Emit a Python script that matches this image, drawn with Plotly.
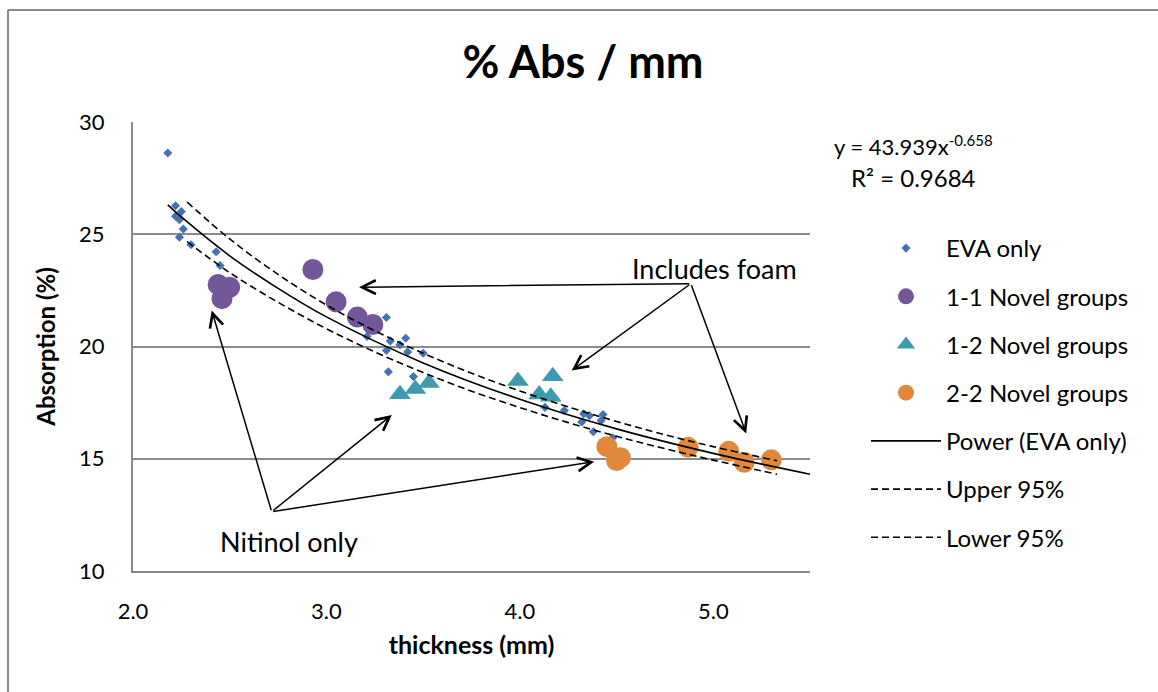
import plotly.graph_objects as go

FONT = "Lato"

# ---------------- data ----------------
eva_x = [2.18, 2.22, 2.25, 2.22, 2.24, 2.26, 2.24, 2.30, 2.43, 2.45,
         3.31, 3.21, 3.33, 3.41, 3.38, 3.31, 3.42, 3.50, 3.32, 3.45,
         4.13, 4.23, 4.33, 4.36, 4.32, 4.43, 4.42, 4.38, 4.48]
eva_y = [28.62, 26.27, 26.01, 25.80, 25.65, 25.23, 24.87, 24.53, 24.22, 23.61,
         21.29, 20.45, 20.24, 20.37, 20.08, 19.82, 19.76, 19.70, 18.87, 18.66,
         17.29, 17.15, 17.00, 16.92, 16.64, 16.97, 16.70, 16.20, 15.93]

g11_x = [2.44, 2.50, 2.46, 2.93, 3.05, 3.16, 3.24]
g11_y = [22.76, 22.64, 22.13, 23.43, 21.99, 21.31, 20.98]

g12_x = [3.38, 3.46, 3.53, 3.99, 4.17, 4.10, 4.16]
g12_y = [17.87, 18.11, 18.37, 18.46, 18.67, 17.86, 17.76]

g22_x = [4.45, 4.50, 4.52, 4.87, 5.08, 5.16, 5.30]
g22_y = [15.54, 14.92, 15.05, 15.51, 15.33, 14.84, 14.95]

# Power trendline (EVA only): y = 43.939x^-0.658
fit_x = [2.18, 2.25, 2.5, 2.75, 3.0, 3.5, 4.0, 4.5, 5.0, 5.5]
fit_y = [26.31, 25.77, 24.04, 22.59, 21.32, 19.27, 17.65, 16.33, 15.24, 14.31]

band_x = [2.28, 2.5, 2.75, 3.0, 3.25, 3.5, 3.75, 4.0, 4.25, 4.5, 4.75, 5.0, 5.33]
upper_y = [26.43, 24.79, 23.21, 21.85, 20.70, 19.70, 18.81, 18.02, 17.31, 16.66, 16.07, 15.54, 14.91]
lower_y = [24.67, 23.29, 21.97, 20.79, 19.76, 18.84, 18.01, 17.28, 16.61, 16.00, 15.45, 14.94, 14.31]

x_ticks = [2.0, 3.0, 4.0, 5.0]
y_ticks = [10, 15, 20, 25, 30]

# annotation anchor points (data coordinates)
foam_tail = (4.884, 22.80)
foam_heads = [(3.169, 22.64), (4.268, 18.93), (5.170, 16.13)]
nit_tail = (2.717, 12.64)
nit_heads = [(2.407, 21.60), (3.338, 16.95), (4.384, 14.87)]

# ---------------- styles ----------------
EVA_C = "#4472B4"
P_C = "#745799"
T_C = "#3E9AB0"
O_C = "#E0883C"
GRID = "#8a8a8a"

fig = go.Figure()
fig.add_trace(go.Scatter(x=eva_x, y=eva_y, mode="markers", name="EVA only",
                         legendgroup="a",
                         marker=dict(symbol="diamond", size=7, color=EVA_C, line=dict(width=0))))
fig.add_trace(go.Scatter(x=g11_x, y=g11_y, mode="markers", name="1-1 Novel groups",
                         legendgroup="b",
                         marker=dict(symbol="circle", size=21, color=P_C, line=dict(width=0))))
fig.add_trace(go.Scatter(x=g12_x, y=g12_y, mode="markers", name="1-2 Novel groups",
                         legendgroup="c",
                         marker=dict(symbol="triangle-up", size=19, color=T_C, line=dict(width=0))))
fig.add_trace(go.Scatter(x=g22_x, y=g22_y, mode="markers", name="2-2 Novel groups",
                         legendgroup="d",
                         marker=dict(symbol="circle", size=21, color=O_C, line=dict(width=0))))
fig.add_trace(go.Scatter(x=fit_x, y=fit_y, mode="lines", name="Power (EVA only)",
                         legendgroup="e", line=dict(color="black", width=1.6, shape="spline")))
fig.add_trace(go.Scatter(x=band_x, y=upper_y, mode="lines", name="Upper 95%",
                         legendgroup="f", line=dict(color="black", width=1.6, dash="7px,4px", shape="spline")))
fig.add_trace(go.Scatter(x=band_x, y=lower_y, mode="lines", name="Lower 95%",
                         legendgroup="g", line=dict(color="black", width=1.6, dash="7px,4px", shape="spline")))

annotations = []
for hx, hy in foam_heads:
    annotations.append(dict(x=hx, y=hy, ax=foam_tail[0], ay=foam_tail[1], xref="x", yref="y",
                            axref="x", ayref="y", text="", showarrow=True, arrowhead=5,
                            arrowsize=1.8, arrowwidth=1.5, arrowcolor="black", standoff=0, startstandoff=0))
for hx, hy in nit_heads:
    annotations.append(dict(x=hx, y=hy, ax=nit_tail[0], ay=nit_tail[1], xref="x", yref="y",
                            axref="x", ayref="y", text="", showarrow=True, arrowhead=5,
                            arrowsize=1.8, arrowwidth=1.5, arrowcolor="black", standoff=0, startstandoff=0))

L, R, T, B = 133, 348, 122, 121
W, H = 1158, 692
pw, ph = W - L - R, H - T - B

def px(xp):
    return (xp - L) / pw

def py(yp):
    return 1 - (yp - T) / ph

annotations += [
    dict(x=px(714), y=py(268), xref="paper", yref="paper", text="Includes foam", showarrow=False,
         xanchor="center", yanchor="middle", font=dict(family=FONT, size=27, color="black")),
    dict(x=px(289), y=py(541), xref="paper", yref="paper", text="Nitinol only", showarrow=False,
         xanchor="center", yanchor="middle", font=dict(family=FONT, size=27, color="black")),
    dict(x=px(832), y=py(145), xref="paper", yref="paper",
         text="y = 43.939x<sup><span style='font-size:15px'>-0.658</span></sup>",
         showarrow=False, xanchor="left", yanchor="middle", font=dict(family=FONT, size=22, color="black")),
    dict(x=px(913), y=py(177), xref="paper", yref="paper", text="R² = 0.9684",
         showarrow=False, xanchor="center", yanchor="middle", font=dict(family=FONT, size=24, color="black")),
]

shapes = [
    dict(type="line", xref="paper", yref="paper", x0=px(8), y0=py(10), x1=px(1160), y1=py(10),
         line=dict(color="#8a8a8a", width=2)),
    dict(type="line", xref="paper", yref="paper", x0=px(8), y0=py(10), x1=px(8), y1=py(694),
         line=dict(color="#8a8a8a", width=2)),
]

fig.update_layout(
    width=W, height=H,
    margin=dict(l=L, r=R, t=T, b=B, autoexpand=False),
    paper_bgcolor="white", plot_bgcolor="white",
    font=dict(family=FONT, color="black"),
    title=dict(text="<b>% Abs / mm</b>", x=583 / W, xanchor="center", xref="container",
               y=1 - 62 / H, yanchor="middle", yref="container",
               font=dict(family=FONT, size=45, color="black")),
    xaxis=dict(range=[2.0, 5.5], tickvals=x_ticks, ticktext=[f"{v:.1f}" for v in x_ticks],
               showgrid=False, zeroline=False, showline=True, linecolor=GRID, linewidth=2,
               ticks="", ticklabelstandoff=20, tickfont=dict(family=FONT, size=22, color="black"),
               title=dict(text="<b>thickness (mm)</b>", standoff=13,
                          font=dict(family=FONT, size=25, color="black"))),
    yaxis=dict(range=[10, 30], tickvals=y_ticks, showgrid=True, gridcolor=GRID, gridwidth=1.6,
               zeroline=False, showline=True, linecolor=GRID, linewidth=2,
               ticks="", ticklabelstandoff=22, tickfont=dict(family=FONT, size=22, color="black"),
               title=dict(text="<b>Absorption (%)</b>", standoff=17,
                          font=dict(family=FONT, size=24, color="black"))),
    legend=dict(x=px(866), xanchor="left", y=py(226), yanchor="top",
                font=dict(family=FONT, size=24, color="black"), itemwidth=70,
                tracegroupgap=14, bgcolor="rgba(0,0,0,0)", traceorder="grouped"),
    annotations=annotations,
    shapes=shapes,
    showlegend=True,
)

fig.write_html("out.html")
